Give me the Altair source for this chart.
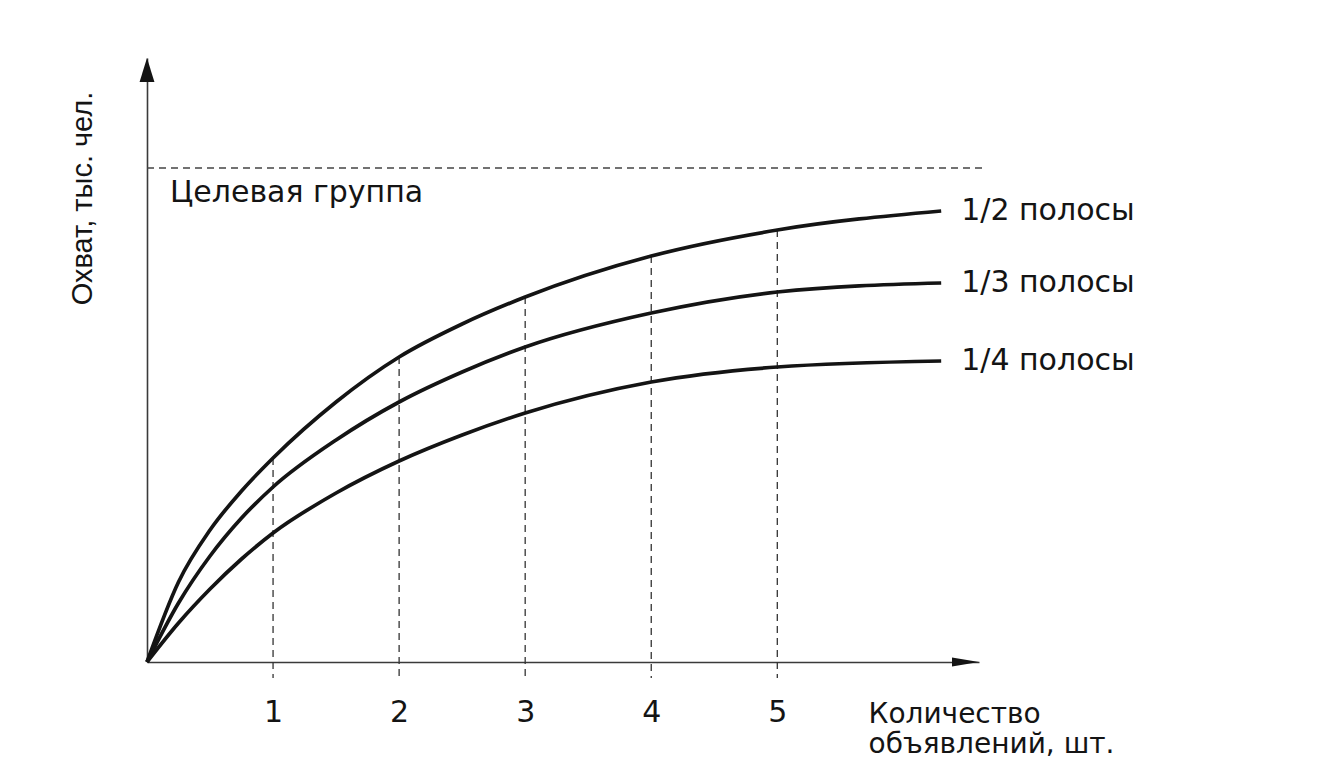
import altair as alt
import pandas as pd

# ---- data ----
ads = [0, 0.25, 0.5, 0.75, 1, 1.5, 2, 2.5, 3, 4, 5, 6.3]
half_page = [0, 8.0, 13.2, 17.1, 20.4, 26.0, 30.5, 33.8, 36.5, 40.6, 43.2, 45.1]
third_page = [0, 5.9, 10.6, 14.4, 17.5, 22.2, 26.0, 29.0, 31.5, 34.9, 37.0, 37.9]
quarter_page = [0, 3.9, 7.3, 10.3, 12.9, 16.9, 20.1, 22.7, 24.9, 28.0, 29.5, 30.1]
series_names = ["1/2 полосы", "1/3 полосы", "1/4 полосы"]
tick_values = [1, 2, 3, 4, 5]
target_reach = 49.4
target_label = "Целевая группа"
x_title = ["Количество", "объявлений, шт."]
y_title = "Охват, тыс. чел."

X_MAX = 6.6
Y_MAX = 60.4
TARGET_END = 6.65
GUIDE_FLOOR = -1.6

HFONT = "DejaVu Sans"
VFONT = "Liberation Sans"
INK = "#141414"
FS = 30

# ---- tables ----
rows = []
for name, vals in zip(series_names, [half_page, third_page, quarter_page]):
    for x, y in zip(ads, vals):
        rows.append({"series": name, "x": x, "y": y})
curves = pd.DataFrame(rows)

ends = pd.DataFrame({
    "series": series_names,
    "x": [ads[-1]] * 3,
    "y": [half_page[-1], third_page[-1], quarter_page[-1]],
})

guides = pd.DataFrame({
    "x": tick_values,
    "top": [half_page[ads.index(v)] for v in tick_values],
    "floor": [GUIDE_FLOOR] * len(tick_values),
})

target = pd.DataFrame({"x0": [0], "x1": [TARGET_END], "y": [target_reach], "label": [target_label]})
x_arrow = pd.DataFrame({"x": [X_MAX], "y": [0]})
y_arrow = pd.DataFrame({"x": [0], "y": [Y_MAX]})

xs = alt.Scale(domain=[0, X_MAX], nice=False, zero=False)
ys = alt.Scale(domain=[0, Y_MAX], nice=False, zero=False)

x_axis = alt.Axis(
    values=tick_values, ticks=False, grid=False, domain=True,
    domainColor="#3a3a3a", domainWidth=1.6,
    labelFont=HFONT, labelFontSize=FS, labelColor=INK,
    labelBaseline="alphabetic", labelPadding=59, labelFlush=False,
    title=x_title, titleFont=HFONT, titleFontSize=28, titleFontWeight="normal",
    titleColor=INK, titleAnchor="start", titleAlign="left", titleBaseline="alphabetic",
    titleX=721, titleY=60, titleLineHeight=30,
)
y_axis = alt.Axis(
    ticks=False, labels=False, grid=False, domain=True,
    domainColor="#3a3a3a", domainWidth=1.6,
    title=y_title, titleFont=VFONT, titleFontSize=29, titleFontWeight="normal",
    titleColor=INK, titleAngle=270, titleAlign="center", titleBaseline="middle",
    titleX=-65, titleY=140,
)


def X(field):
    return alt.X(field, scale=xs, axis=x_axis)


def Y(field):
    return alt.Y(field, scale=ys, axis=y_axis)


lines = alt.Chart(curves).mark_line(
    interpolate="monotone", color=INK, strokeWidth=3.7
).encode(x=X("x:Q"), y=Y("y:Q"), detail="series:N")

guide_rules = alt.Chart(guides).mark_rule(
    color="#333333", strokeWidth=1.3, strokeDash=[7, 5]
).encode(x=X("x:Q"), y=Y("top:Q"), y2="floor:Q")

target_rule = alt.Chart(target).mark_rule(
    color="#444444", strokeWidth=1.3, strokeDash=[7, 5]
).encode(x=X("x0:Q"), x2="x1:Q", y=Y("y:Q"))

target_text = alt.Chart(target).mark_text(
    font=HFONT, fontSize=FS, color=INK, align="left", baseline="alphabetic", dx=23, dy=34
).encode(x=X("x0:Q"), y=Y("y:Q"), text="label:N")

end_labels = alt.Chart(ends).mark_text(
    font=HFONT, fontSize=FS, color=INK, align="left", baseline="middle", dx=20
).encode(x=X("x:Q"), y=Y("y:Q"), text="series:N")

x_head = alt.Chart(x_arrow).mark_point(
    shape="M0,0L-2,-0.34L-2,0.34Z", size=729, filled=True, color=INK, opacity=1
).encode(x=X("x:Q"), y=Y("y:Q"))

y_head = alt.Chart(y_arrow).mark_point(
    shape="M0,0L-0.62,2L0.62,2Z", size=576, filled=True, color=INK, opacity=1
).encode(x=X("x:Q"), y=Y("y:Q"))

chart = alt.layer(
    guide_rules, target_rule, lines, target_text, end_labels, x_head, y_head
).properties(
    width=832, height=604,
    autosize=alt.AutoSizeParams(type="none"),
    padding={"left": 139, "top": 50, "right": 330, "bottom": 96},
    background="white",
).configure_view(stroke=None)

chart.save("out.html", embed_options={"renderer": "svg", "actions": False})
